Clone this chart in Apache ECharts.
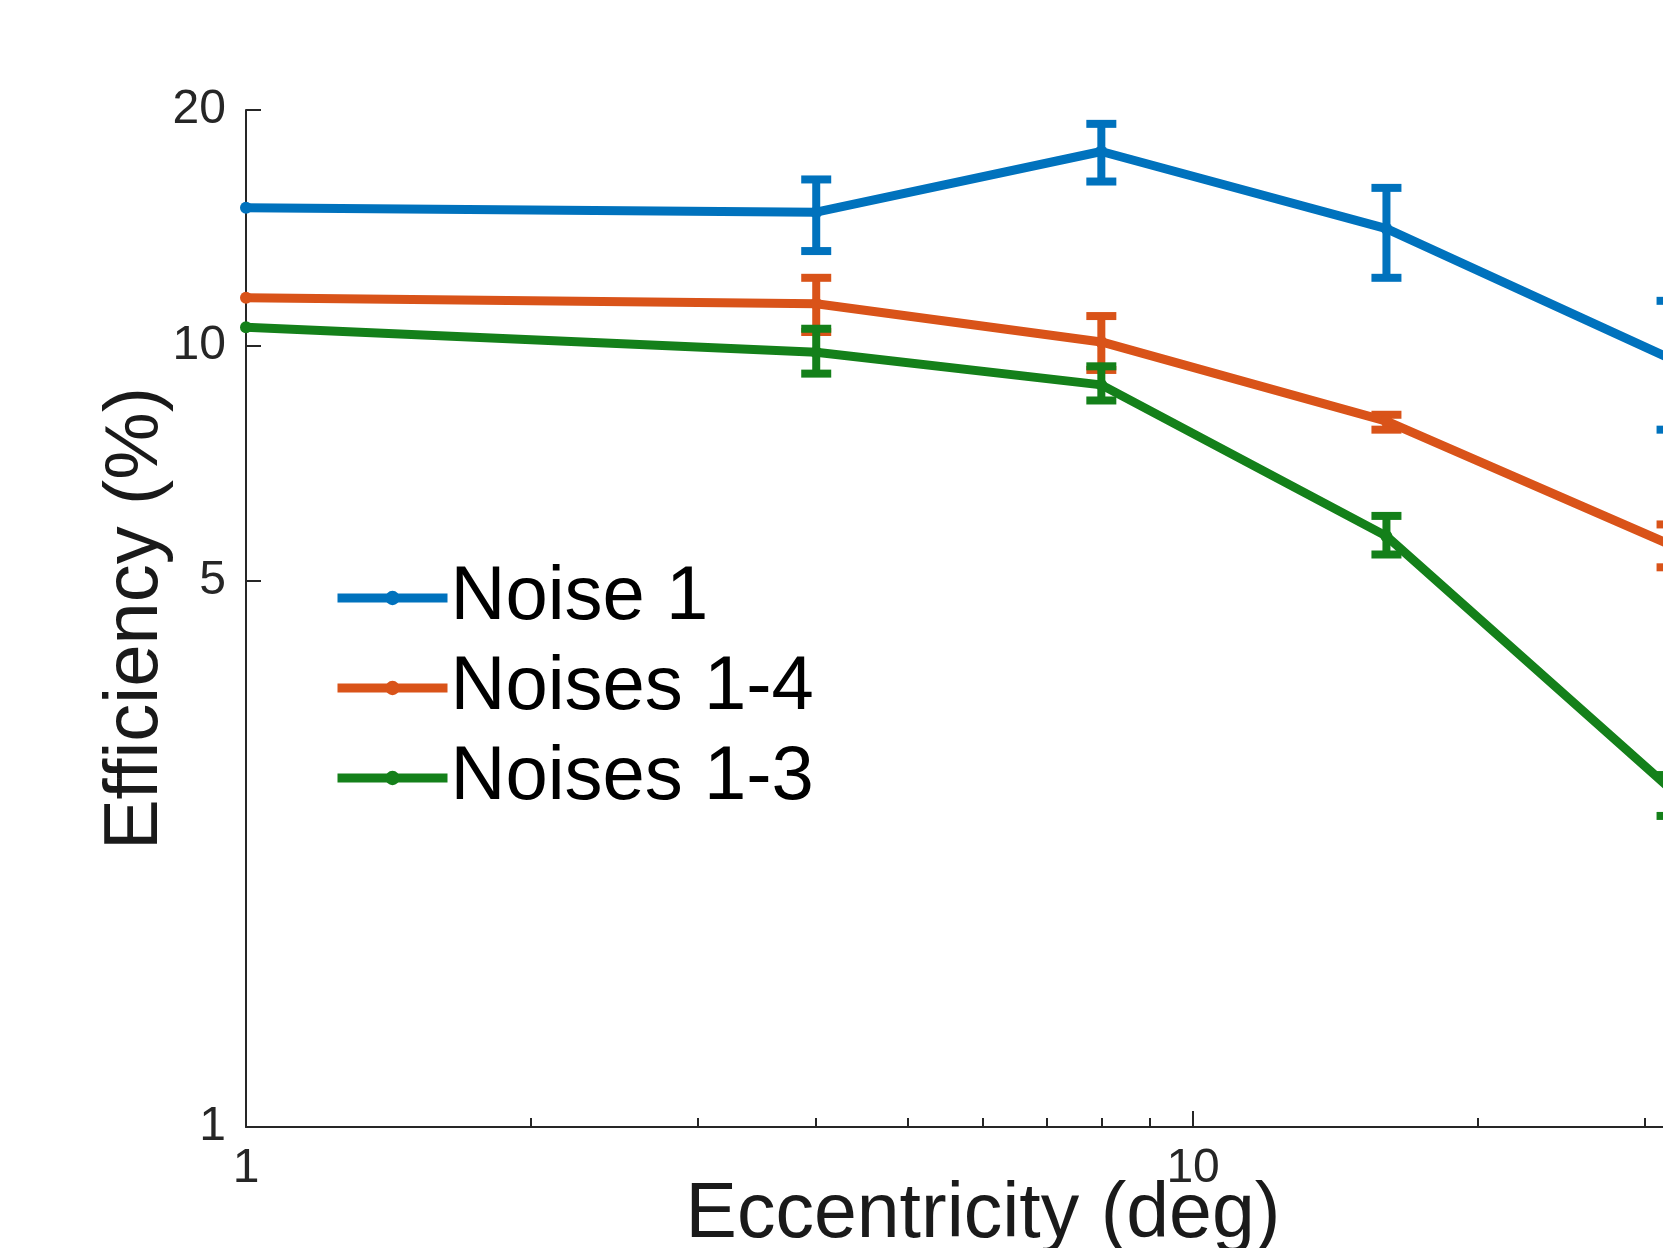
<!DOCTYPE html>
<html>
<head>
<meta charset="utf-8">
<script src="https://cdn.jsdelivr.net/npm/echarts@6/dist/echarts.min.js"></script>
<style>
  html, body { margin: 0; padding: 0; background: #fff; overflow: hidden; }
  #chart { width: 1663px; height: 1248px; }
</style>
</head>
<body>
<div id="chart"></div>
<script>
// eccentricity (deg), log axis
const ecc = [1, 4, 8, 16, 32]

// efficiency (%) per condition, with error bar bounds (none at 1 deg)
const noise1 = [15.0, 14.8, 17.7, 14.1, 9.6]
const noise1Lo = [null, 13.2, 16.2, 12.2, 7.8]
const noise1Hi = [null, 16.3, 19.2, 15.9, 11.4]

const noises14 = [11.5, 11.3, 10.1, 8.0, 5.55]
const noises14Lo = [null, 10.4, 9.3, 7.8, 5.2]
const noises14Hi = [null, 12.2, 10.9, 8.15, 5.9]

const noises13 = [10.55, 9.8, 8.9, 5.7, 2.7]
const noises13Lo = [null, 9.2, 8.5, 5.4, 2.5]
const noises13Hi = [null, 10.5, 9.4, 6.05, 2.82]

const yTickLabels = [1, 5, 10, 20]
const xTickLabels = [1, 10]
const xMinorTicks = [2, 3, 4, 5, 6, 7, 8, 9, 20, 30]

const names = ['Noise 1', 'Noises 1-4', 'Noises 1-3']
const colors = ['#0072BD', '#D95319', '#14801a']

const font = '"Liberation Sans", Arial, Helvetica, sans-serif'
const axisColor = '#262626'

const lineData = vals => ecc.map((x, i) => [x, vals[i]])
const barData = (lo, hi) => ecc.map((x, i) => lo[i] == null ? null : [x, lo[i], hi[i]]).filter(d => d)

function errorBars(name, color, lo, hi) {
  return {
    type: 'custom',
    name: name,
    data: barData(lo, hi),
    encode: {x: 0, y: [1, 2]},
    z: 3,
    renderItem: (params, api) => {
      const x = api.value(0)
      const top = api.coord([x, api.value(2)])
      const bot = api.coord([x, api.value(1)])
      const half = 15
      const style = {stroke: color, lineWidth: 8, fill: null}
      return {
        type: 'group',
        children: [
          {type: 'line', shape: {x1: top[0], y1: top[1], x2: bot[0], y2: bot[1]}, style: style},
          {type: 'line', shape: {x1: top[0] - half, y1: top[1], x2: top[0] + half, y2: top[1]}, style: style},
          {type: 'line', shape: {x1: bot[0] - half, y1: bot[1], x2: bot[0] + half, y2: bot[1]}, style: style}
        ]
      }
    }
  }
}

function lineSeries(name, color, vals) {
  return {
    type: 'line',
    name: name,
    data: lineData(vals),
    symbol: 'circle',
    symbolSize: 12,
    showSymbol: true,
    z: 4,
    color: color,
    lineStyle: {color: color, width: 9},
    itemStyle: {color: color},
    emphasis: {disabled: true}
  }
}

const chart = echarts.init(document.getElementById('chart'))
chart.setOption({
  animation: false,
  backgroundColor: '#fff',
  grid: {left: 246, top: 110, height: 1017, width: 1474, outerBoundsMode: 'none', containLabel: false},
  legend: {
    orient: 'vertical',
    left: 333,
    top: 553,
    padding: 0,
    itemGap: 0,
    itemWidth: 110,
    itemHeight: 18,
    data: names,
    lineStyle: {width: 9},
    textStyle: {fontFamily: font, fontSize: 76, color: '#000', lineHeight: 90, padding: [0, 0, 0, -2]}
  },
  xAxis: [{
    type: 'log',
    logBase: 10,
    min: 1,
    max: 36,
    name: 'Eccentricity (deg)',
    nameLocation: 'middle',
    nameGap: 50,
    nameMoveOverlap: false,
    nameTextStyle: {fontFamily: font, fontSize: 77, color: '#1a1a1a', verticalAlign: 'top'},
    axisLine: {lineStyle: {color: axisColor, width: 2}},
    axisTick: {inside: true, length: 16, customValues: xTickLabels, lineStyle: {color: axisColor, width: 2}},
    axisLabel: {customValues: xTickLabels, margin: 18, fontFamily: font, fontSize: 48, color: axisColor},
    splitLine: {show: false}
  }, {
    type: 'log',
    logBase: 10,
    min: 1,
    max: 36,
    position: 'bottom',
    axisLine: {show: false},
    axisTick: {inside: true, length: 9, customValues: xMinorTicks, lineStyle: {color: axisColor, width: 2}},
    axisLabel: {show: false},
    splitLine: {show: false}
  }],
  yAxis: {
    type: 'log',
    logBase: 10,
    min: 1,
    max: 20,
    name: 'Efficiency (%)',
    nameLocation: 'middle',
    nameGap: 72,
    nameMoveOverlap: false,
    nameTextStyle: {fontFamily: font, fontSize: 76, color: '#1a1a1a'},
    axisLine: {show: true, lineStyle: {color: axisColor, width: 2}},
    axisTick: {inside: true, length: 15, customValues: yTickLabels, lineStyle: {color: axisColor, width: 2}},
    axisLabel: {customValues: yTickLabels, margin: 20, fontFamily: font, fontSize: 48, color: axisColor},
    splitLine: {show: false}
  },
  series: [
    lineSeries(names[0], colors[0], noise1),
    lineSeries(names[1], colors[1], noises14),
    lineSeries(names[2], colors[2], noises13),
    errorBars(names[0], colors[0], noise1Lo, noise1Hi),
    errorBars(names[1], colors[1], noises14Lo, noises14Hi),
    errorBars(names[2], colors[2], noises13Lo, noises13Hi)
  ]
})
</script>
</body>
</html>
